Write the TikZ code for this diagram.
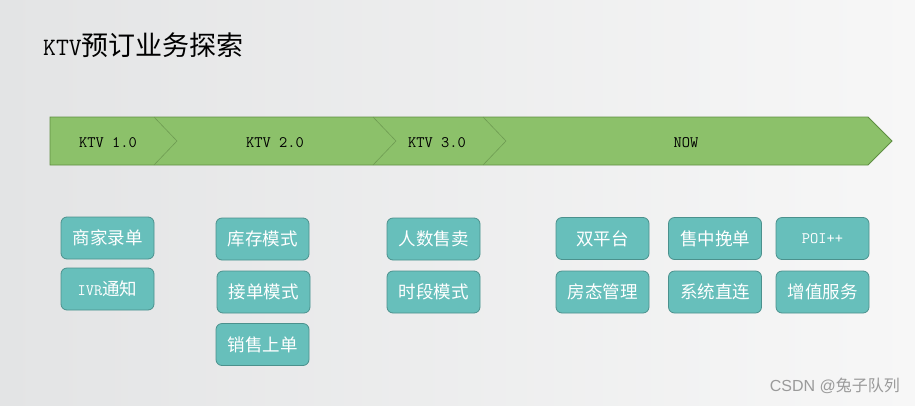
\documentclass[tikz,border=0pt]{standalone}
\usepackage{fontspec}
\setmainfont{Liberation Sans}
\newfontfamily\cjk{Noto Sans CJK SC}
\definecolor{bannerfill}{HTML}{8CC16A}
\definecolor{bannerdraw}{HTML}{5F8E42}
\definecolor{chev}{HTML}{6E9B52}
\definecolor{boxfill}{HTML}{67BFBB}
\definecolor{boxdraw}{HTML}{4B918D}
\definecolor{bgl}{HTML}{E3E4E5}
\definecolor{bgr}{HTML}{F7F7F7}
\definecolor{wm}{HTML}{9A9A9A}
\begin{document}
\begin{tikzpicture}[x=1pt,y=-1pt,
  item/.style={draw=boxdraw, fill=boxfill, rounded corners=6pt, minimum width=93pt,
    minimum height=42pt, text=white, font=\cjk\fontsize{17.5}{20}\selectfont,
    inner sep=0pt, line width=0.8pt},
  stage/.style={font=\ttfamily\fontsize{16}{18}\selectfont, text=black, inner sep=0pt},
  chevline/.style={draw=chev, line width=0.6pt}]
\shade[left color=bgl, right color=bgr] (0,0) rectangle (915,405);
\useasboundingbox (0,0) rectangle (915,405);
% title
\node[anchor=west, inner sep=0pt] (title) at (43,45)
  {{\ttfamily\fontsize{25}{28}\selectfont KTV}{\cjk\fontsize{27}{30}\selectfont 预订业务探索}};
% banner
\draw[fill=bannerfill, draw=bannerdraw, line width=0.8pt]
  (50,117) -- (868,117) -- (892,141) -- (868,165) -- (50,165) -- cycle;
\draw[chevline] (154,117) -- (177,141) -- (154,165);
\draw[chevline] (373,117) -- (396,141) -- (373,165);
\draw[chevline] (483,117) -- (506,141) -- (483,165);
\node[stage] (s1) at (108,143) {KTV 1.0};
\node[stage] (s2) at (275,143) {KTV 2.0};
\node[stage] (s3) at (437,143) {KTV 3.0};
\node[stage] (s4) at (686,143) {NOW};
% boxes
\node[item] (a1) at (107.5,238) {商家录单};
\node[item] (a2) at (107.5,289) {{\ttfamily\fontsize{16}{18}\selectfont IVR}通知};
\node[item] (b1) at (262.5,239) {库存模式};
\node[item] (b2) at (263.5,292) {接单模式};
\node[item] (b3) at (262.5,344.5) {销售上单};
\node[item] (c1) at (433.5,239) {人数售卖};
\node[item] (c2) at (433.5,292) {时段模式};
\node[item] (d1) at (602.5,238.5) {双平台};
\node[item] (d2) at (602.5,292) {房态管理};
\node[item] (e1) at (715,238.5) {售中挽单};
\node[item] (e2) at (715,292) {系统直连};
\node[item] (f1) at (822.5,238.5) {\ttfamily\fontsize{16}{18}\selectfont POI++};
\node[item] (f2) at (822.5,292) {增值服务};
% watermark
\node[anchor=east, inner sep=0pt, text=wm] (wmark) at (900,386)
  {\fontsize{16}{18}\selectfont CSDN @{\cjk 兔子队列}};
\end{tikzpicture}
\end{document}
